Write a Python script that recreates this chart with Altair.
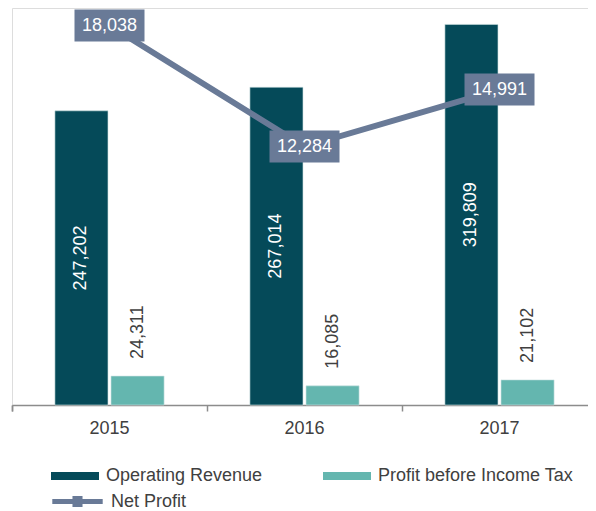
import altair as alt
import pandas as pd

years = ["2015", "2016", "2017"]
operating_revenue = [247202, 267014, 319809]
profit_before_tax = [24311, 16085, 21102]
net_profit = [18038, 12284, 14991]
series_names = ["Operating Revenue", "Profit before Income Tax"]
line_name = "Net Profit"

DARK = "#054a59"
LIGHT = "#64b6af"
SLATE = "#697a97"
TXT = "#404040"
FONT = "Liberation Sans, Arial, sans-serif"
FS = 18

rows = []
for i, y in enumerate(years):
    rows.append({"year": y, "series": series_names[0], "value": operating_revenue[i]})
    rows.append({"year": y, "series": series_names[1], "value": profit_before_tax[i]})
bar_df = pd.DataFrame(rows)
bar_df["label"] = bar_df["value"].map(lambda v: f"{v:,}")
bar_df["mid"] = bar_df["value"] / 2

line_df = pd.DataFrame({"year": years, "value": net_profit, "name": line_name})
line_df["label"] = line_df["value"].map(lambda v: f"{v:,}")

x_scale = alt.Scale(paddingInner=0, paddingOuter=0, range=[0, 585])
x_enc = alt.X(
    "year:N",
    sort=years,
    scale=x_scale,
    axis=alt.Axis(
        title=None,
        labelAngle=0,
        labelFont=FONT,
        labelFontSize=FS,
        labelColor=TXT,
        labelPadding=8,
        domainColor="#8c8c8c",
        domainWidth=1.5,
        tickColor="#8c8c8c",
        tickWidth=1.5,
        tickSize=6,
        bandPosition=0,
        tickExtra=True,
    ),
)
xoff = alt.XOffset(
    "series:N",
    sort=series_names,
    scale=alt.Scale(paddingInner=0.054, paddingOuter=0.765),
)
y_bar = alt.Scale(domain=[0, 333600], nice=False, zero=True)
y_line = alt.Scale(domain=[0, 18870], nice=False, zero=True)

base = alt.Chart(bar_df)

bars = base.mark_bar(stroke="#cfe3e3", strokeWidth=0.6).encode(
    x=x_enc,
    xOffset=xoff,
    y=alt.Y("value:Q", scale=y_bar, axis=None),
    color=alt.Color(
        "series:N",
        sort=series_names,
        scale=alt.Scale(domain=series_names, range=[DARK, LIGHT]),
        legend=alt.Legend(
            title=None,
            orient="none",
            legendX=39,
            legendY=444,
            direction="horizontal",
            columns=2,
            columnPadding=60,
            padding=0,
            symbolType="M-1,-0.17H1V0.17H-1Z",
            symbolSize=2304,
            symbolStrokeWidth=0,
            labelFont=FONT,
            labelFontSize=FS,
            labelColor=TXT,
            labelOffset=7,
            labelLimit=400,
        ),
    ),
)

or_text = base.transform_filter(alt.datum.series == series_names[0]).mark_text(
    angle=270, align="center", baseline="middle", color="white",
    font=FONT, fontSize=FS,
).encode(
    x=alt.X("year:N", sort=years, scale=x_scale),
    xOffset=xoff,
    y=alt.Y("mid:Q", scale=y_bar, axis=None),
    text="label:N",
)

pbt_text = base.transform_filter(alt.datum.series == series_names[1]).mark_text(
    angle=270, align="left", baseline="middle", color=TXT,
    font=FONT, fontSize=FS, dx=17,
).encode(
    x=alt.X("year:N", sort=years, scale=x_scale),
    xOffset=xoff,
    y=alt.Y("value:Q", scale=y_bar, axis=None),
    text="label:N",
)

lbase = alt.Chart(line_df)

line = lbase.mark_line(strokeWidth=6).encode(
    x=alt.X("year:N", sort=years, scale=x_scale),
    y=alt.Y("value:Q", scale=y_line, axis=None),
    stroke=alt.Stroke(
        "name:N",
        scale=alt.Scale(domain=[line_name], range=[SLATE]),
        legend=alt.Legend(
            title=None,
            orient="none",
            legendX=35,
            legendY=463,
            padding=0,
            symbolType="M-0.9,0H0.9M-0.09,-0.11H0.09V0.11H-0.09Z",
            symbolSize=3136,
            symbolStrokeWidth=5,
            symbolFillColor=SLATE,
            labelFont=FONT,
            labelFontSize=FS,
            labelColor=TXT,
            labelOffset=3,
            labelLimit=400,
        ),
    ),
)

boxes = lbase.mark_point(
    shape="M-1,-0.457H1V0.457H-1Z", size=4900, filled=True, opacity=1, color=SLATE
).encode(
    x=alt.X("year:N", sort=years, scale=x_scale),
    y=alt.Y("value:Q", scale=y_line, axis=None),
)

box_text = lbase.mark_text(
    align="center", baseline="middle", color="white", font=FONT, fontSize=FS
).encode(
    x=alt.X("year:N", sort=years, scale=x_scale),
    y=alt.Y("value:Q", scale=y_line, axis=None),
    text="label:N",
)

chart = (
    alt.layer(bars, or_text, pbt_text, line, boxes, box_text)
    .resolve_scale(y="independent")
    .properties(
        width=576,
        height=397,
        padding={"left": 4, "top": 0, "right": 0, "bottom": 106},
        autosize=alt.AutoSizeParams(type="none"),
    )
    .configure_view(stroke="transparent", strokeWidth=0)
    .configure(background="white")
)

chart.save("out.html", embed_options={"renderer": "svg", "actions": False})
